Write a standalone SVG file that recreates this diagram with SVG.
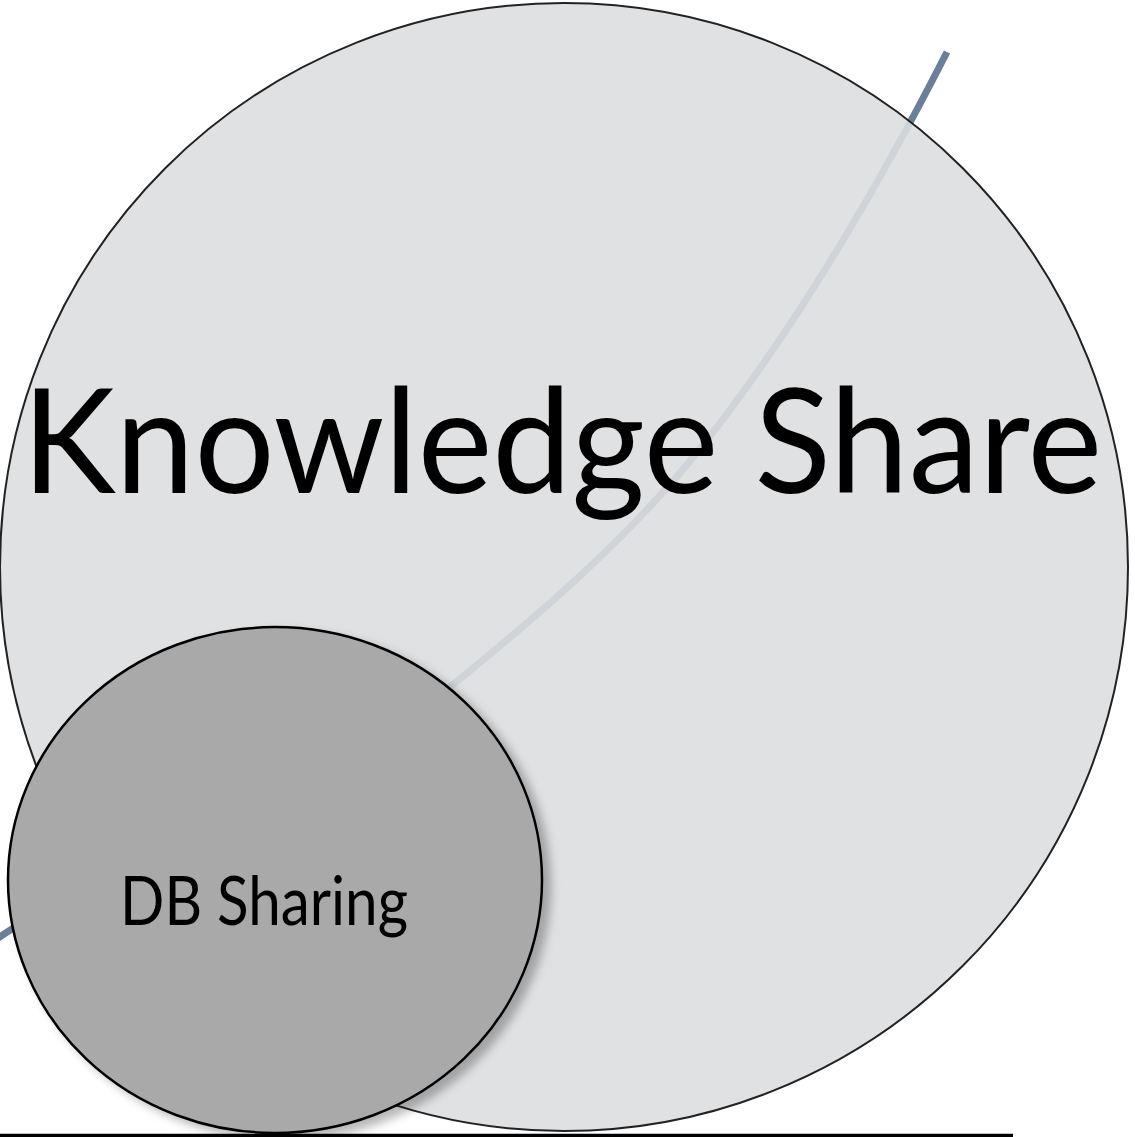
<svg xmlns="http://www.w3.org/2000/svg" width="1135" height="1137" viewBox="0 0 1135 1137">
  <style>
    .label { font-family: Lato, "Open Sans", "Liberation Sans", sans-serif; fill: #000; }
    .big { fill: #dcdde0; fill-opacity: 0.89; stroke: #222; stroke-width: 2; }
    .small { fill: #a8a9a8; stroke: #000; stroke-width: 2.5; }
    .arc { fill: none; stroke: #6b7f98; stroke-width: 7; }
  </style>
  <defs>
    <filter id="shadow" x="-10%" y="-10%" width="125%" height="125%">
      <feDropShadow dx="8" dy="6" stdDeviation="5" flood-color="#000" flood-opacity="0.28"/>
    </filter>
  </defs>
  <rect width="1135" height="1137" fill="#fff"/>
  <g id="connectors">
    <path class="arc" d="M947,52 C878,187.4 800.6,320.2 707,440 C633.7,533.8 542.5,612.1 450,687 C314.8,796.4 136.5,841.1 -6,941"/>
  </g>
  <g id="knowledge-share">
    <circle class="big" cx="564" cy="567" r="564"/>
    <text class="label" x="22" y="493" font-size="146" textLength="1080" lengthAdjust="spacingAndGlyphs">Knowledge Share</text>
  </g>
  <g id="db-sharing">
    <ellipse class="small" cx="275" cy="880" rx="267" ry="253" filter="url(#shadow)"/>
    <text class="label" x="120" y="925" font-size="67" textLength="288" lengthAdjust="spacingAndGlyphs">DB Sharing</text>
  </g>
  <line x1="0" y1="1135.5" x2="1013" y2="1135.5" stroke="#000" stroke-width="3.5"/>
</svg>
